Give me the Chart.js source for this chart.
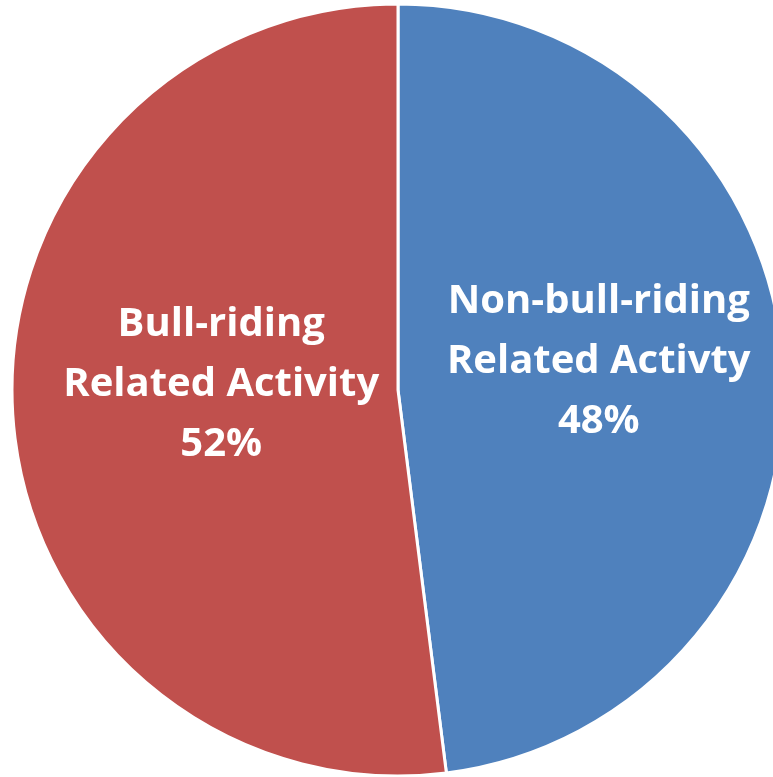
<!DOCTYPE html>
<html>
<head>
<meta charset="utf-8">
<script src="https://cdn.jsdelivr.net/npm/chart.js@4"></script>
<style>
  html, body { margin: 0; padding: 0; background: #fff; overflow: hidden; }
  #wrap { position: absolute; left: 0; top: 0; width: 796px; height: 780px; }
</style>
</head>
<body>
<div id="wrap"><canvas id="pie"></canvas></div>
<script>
// Aandeel per activiteit
const categories = ['Non-bull-riding Related Activty', 'Bull-riding Related Activity'];
const labelLines = [['Non-bull-riding', 'Related Activty'], ['Bull-riding', 'Related Activity']];
const shares = [48, 52];
const colors = ['#4F81BD', '#C0504D'];

// labels in de taartpunten tekenen
const sliceLabels = {
  id: 'sliceLabels',
  afterDatasetsDraw(chart) {
    const ctx = chart.ctx;
    const meta = chart.getDatasetMeta(0);
    ctx.save();
    ctx.fillStyle = '#fff';
    ctx.font = 'bold 40px "Open Sans"';
    ctx.textAlign = 'center';
    ctx.textBaseline = 'middle';
    meta.data.forEach((arc, i) => {
      const mid = (arc.startAngle + arc.endAngle) / 2;
      const r = arc.outerRadius * 0.49;
      const x = arc.x + Math.cos(mid) * r + 12;
      const y = arc.y + Math.sin(mid) * r - 17;
      const lines = labelLines[i].concat([shares[i] + '%']);
      lines.forEach((t, k) => ctx.fillText(t, x, y + (k - 1) * 60));
    });
    ctx.restore();
  }
};

new Chart(document.getElementById('pie'), {
  type: 'pie',
  data: {
    labels: categories,
    datasets: [{
      data: shares,
      backgroundColor: colors,
      borderColor: '#fff',
      borderWidth: 3
    }]
  },
  options: {
    responsive: true,
    maintainAspectRatio: false,
    animation: false,
    radius: 386,
    plugins: { legend: { display: false }, tooltip: { enabled: false } }
  },
  plugins: [sliceLabels]
});
</script>
</body>
</html>
